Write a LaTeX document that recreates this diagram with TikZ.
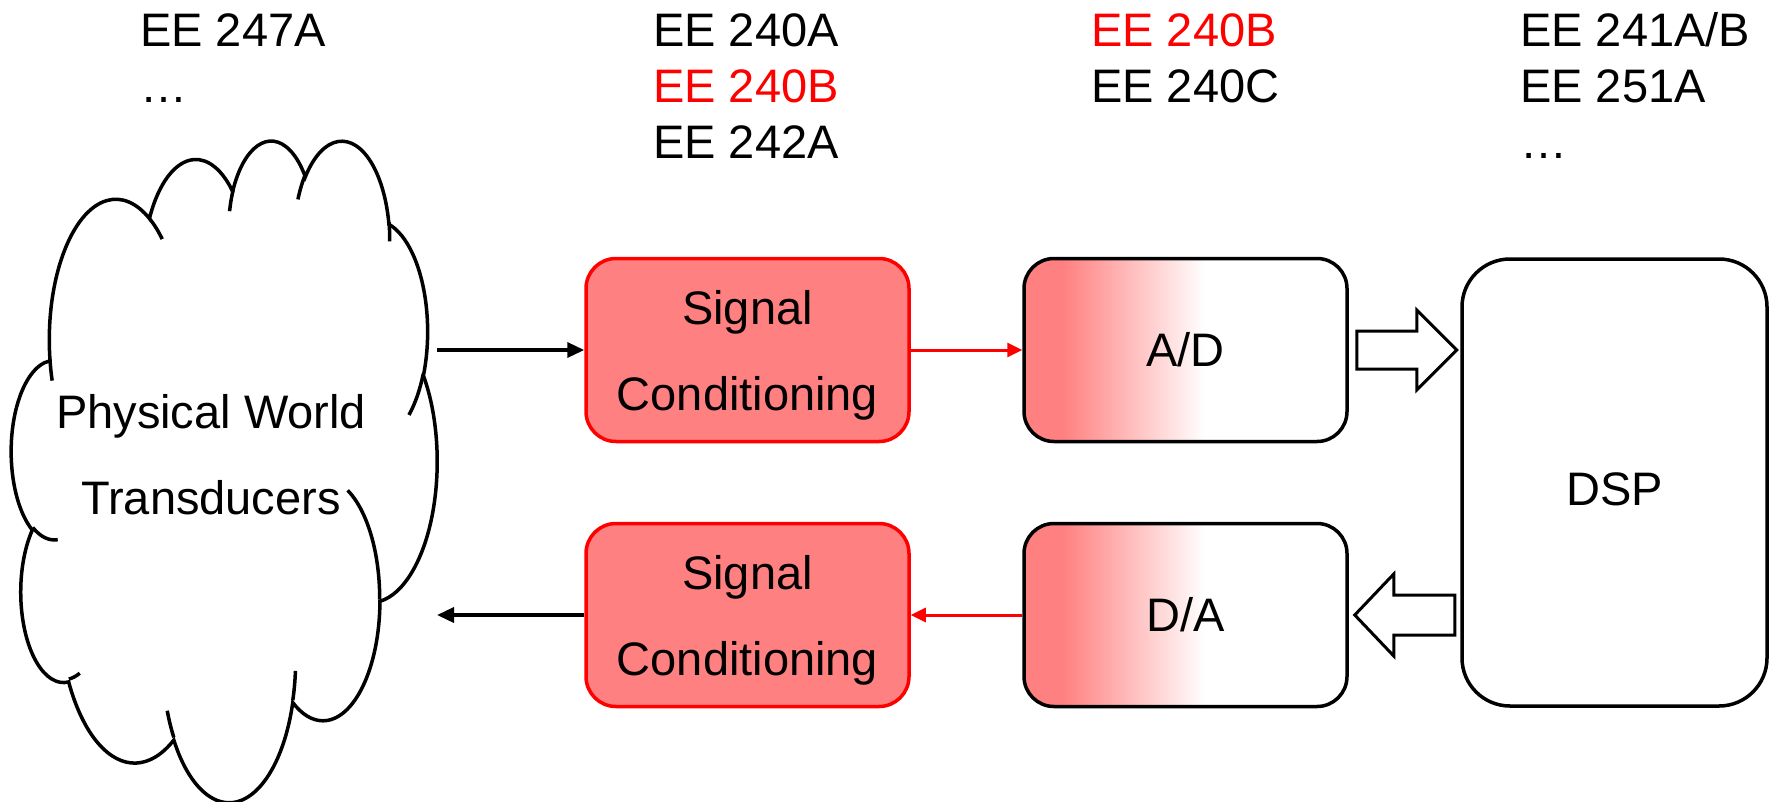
\documentclass[tikz,border=0pt]{standalone}
\usepackage{fontspec}
\setmainfont{Liberation Sans}
\usepackage{tikz}
\usetikzlibrary{calc,positioning,arrows.meta}
\definecolor{condfill}{RGB}{255,128,128}
\definecolor{condred}{RGB}{255,0,0}
\pgfdeclarehorizontalshading{convfade}{100bp}{color(0bp)=(condfill); color(31bp)=(condfill); color(53bp)=(white); color(100bp)=(white)}
% one lobe of the cloud: radii, start angle, sweep (angles seen from the centre)
\newcommand\cloudarc[4]{arc[start angle={atan2(#1*sin(#3),#2*cos(#3))},
  delta angle={Mod(atan2(#1*sin(#3+#4),#2*cos(#3+#4))-atan2(#1*sin(#3),#2*cos(#3)),360)},
  x radius=#1, y radius=#2]}
\tikzset{
	bigfont/.style={font=\fontsize{47}{56}\selectfont},
	condbox/.style={
		draw=condred, fill=condfill, rounded corners=30pt,
		line width=3.5pt, minimum width=323pt, minimum height=183pt,
		align=center, text depth=0pt, font=\fontsize{47}{86}\selectfont
	},
	convbox/.style={
		draw, shading=convfade, rounded corners=30pt,
		line width=3.5pt, minimum width=323pt, minimum height=183pt,
		bigfont
	},
	dspbox/.style={
		draw, rounded corners=48pt, line width=3.5pt,
		minimum width=305pt, minimum height=447pt, text height=46pt, bigfont
	},
	courselabel/.style={anchor=base west, inner sep=0pt, bigfont},
	wire/.style={line width=3.5pt, -{Triangle[length=17pt,width=15pt]}},
	redwire/.style={draw=condred, line width=3pt, -{Triangle[length=15pt,width=14pt]}},
	fatarrow/.style={draw, line width=3pt, fill=white},
	cloudline/.style={line width=3.5pt}
}

\begin{document}
\begin{tikzpicture}[x=1pt,y=-1pt]
  \useasboundingbox (0,0) rectangle (1777,801);

  \node[courselabel] (c1a) at (140,46) {EE 247A};
  \node[courselabel] (c1b) at (140,102) {…};
  \node[courselabel] (c2a) at (653,46) {EE 240A};
  \node[courselabel,text=condred] (c2b) at (653,102) {EE 240B};
  \node[courselabel] (c2c) at (653,158) {EE 242A};
  \node[courselabel,text=condred] (c3a) at (1091,46) {EE 240B};
  \node[courselabel] (c3b) at (1091,102) {EE 240C};
  \node[courselabel] (c4a) at (1520,46) {EE 241A/B};
  \node[courselabel] (c4b) at (1520,102) {EE 251A};
  \node[courselabel] (c4c) at (1520,158) {…};

  % cloud
  \begin{scope}[shift={(11.5,138.9)}, x=0.985pt, y=-1.531pt, cloudline]
    \draw (39.00,143.70)
      \cloudarc{67.53}{91.90}{-190.48748}{123.78053}
      \cloudarc{53.33}{72.67}{-144.10238}{89.94523}
      \cloudarc{43.65}{59.45}{-145.80792}{99.72302}
      \cloudarc{48.57}{65.95}{-130.98607}{117.24173}
      \cloudarc{53.33}{72.73}{-78.70888}{109.02692}
      \cloudarc{67.75}{92.20}{-46.26725}{130.26900}
      \cloudarc{57.85}{78.67}{0.62502}{114.03333}
      \cloudarc{67.52}{92.15}{22.45160}{115.17255}
      \cloudarc{77.20}{105.43}{66.24263}{75.71102}
      \cloudarc{43.60}{59.18}{-274.94208}{146.73557}
      \cloudarc{43.45}{59.45}{-246.82850}{152.51885} -- cycle;
    \draw (46.93,261.77) \cloudarc{43.45}{59.45}{86.74200}{26.42950}
      (69.28,348.99) \cloudarc{43.60}{59.18}{73.61047}{11.44747}
      (164.78,390.90) \cloudarc{67.52}{92.15}{137.62415}{14.08110}
      (288.27,347.51) \cloudarc{67.52}{92.15}{6.45327}{15.99835}
      (341.29,229.54) \cloudarc{57.85}{78.67}{-70.29235}{70.91737}
      (417.98,153.54) \cloudarc{53.33}{72.73}{30.31803}{27.75150}
      (383.24,54.26) \cloudarc{48.57}{65.95}{-13.74433}{14.85890}
      (290.78,39.52) \cloudarc{48.57}{65.95}{-149.18145}{18.19537}
      (221.41,47.20) \cloudarc{43.65}{59.45}{-163.49427}{17.68635}
      (140.00,51.92) \cloudarc{67.53}{91.90}{-66.70695}{12.31935}
      (41.27,157.89) \cloudarc{67.53}{91.90}{157.65435}{11.85817};
  \end{scope}
  \node[align=center, font=\fontsize{47}{86}\selectfont] (pw) at (211,455) {Physical World\\Transducers};
  \coordinate (cloudE) at (437,453);

  \node[condbox] (sc1) at (747.5,350) {Signal\\Conditioning};
  \node[convbox] (ad) [right=111.5pt of sc1] {A/D};
  \node[condbox] (sc2) [below=78.5pt of sc1] {Signal\\Conditioning};
  \node[convbox] (da) [right=111.5pt of sc2] {D/A};
  \coordinate (mid) at ($(ad.east)!0.5!(da.east)$);
  \node[dspbox] (dsp) [right=111.5pt of mid] {DSP};

  \draw[wire] (cloudE |- sc1.west) -- (sc1.west);
  \draw[redwire] (sc1) -- (ad);
  \draw[redwire] (da) -- (sc2);
  \draw[wire] (sc2.west) -- (cloudE |- sc2.west);

  \draw[fatarrow] ($(ad.east)+(8,-19)$) -- ++(60,0) -- ++(0,-21) -- ++(40,40)
    -- ++(-40,40) -- ++(0,-21) -- ++(-60,0) -- cycle;
  \draw[fatarrow] ($(da.east)+(6,0)$) -- ++(39,-41) -- ++(0,21) -- ++(61,0)
    -- ++(0,40) -- ++(-61,0) -- ++(0,21) -- cycle;
\end{tikzpicture}
\end{document}
